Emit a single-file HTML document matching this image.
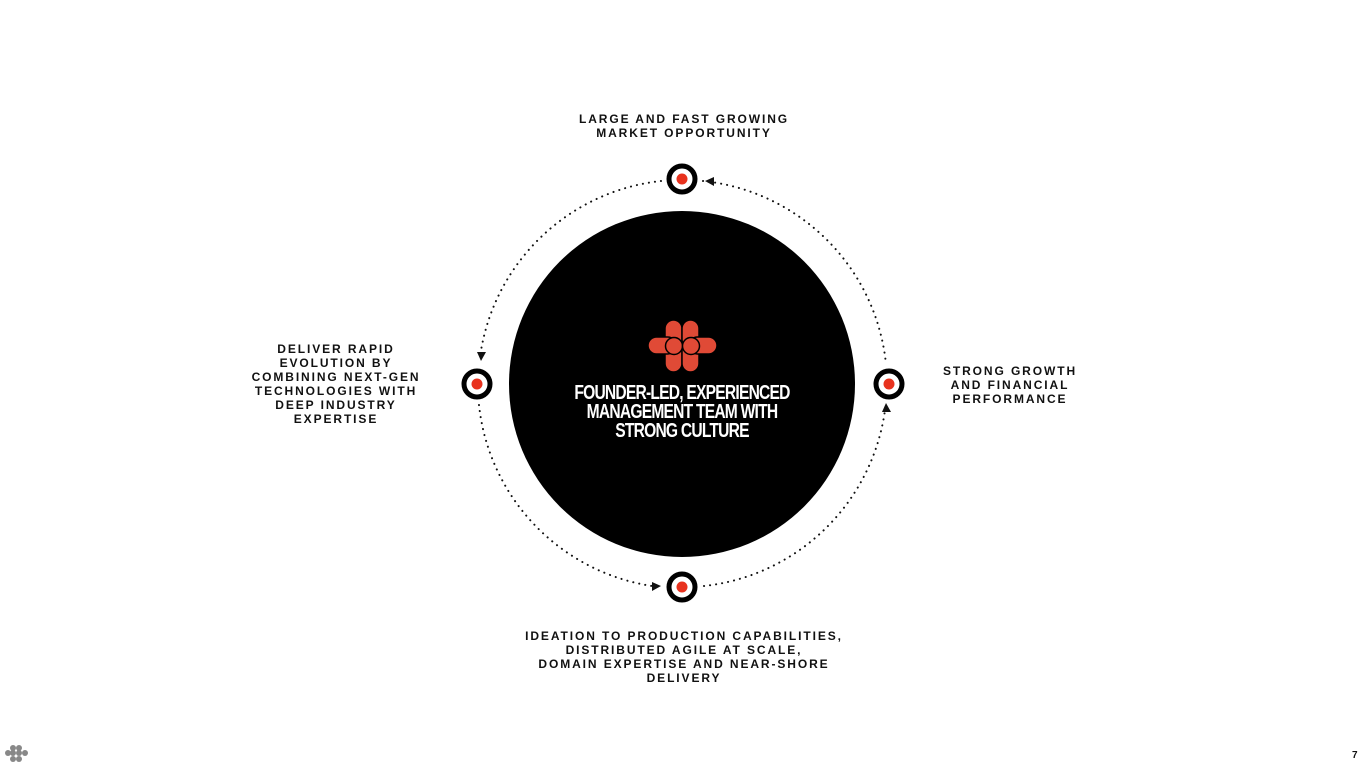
<!DOCTYPE html>
<html><head><style>
body{margin:0;width:1365px;height:768px;background:#fff;position:relative;overflow:hidden;font-family:"Liberation Sans",sans-serif}
.l{position:absolute;font-weight:bold;font-size:12px;letter-spacing:1.9px;line-height:14px;text-align:center;color:#111}
.t{position:absolute;left:532px;width:300px;top:384px;text-align:center;color:#fff;font-family:"Liberation Sans",sans-serif;font-weight:bold;font-size:20px;line-height:19px;letter-spacing:-1px;transform:scaleX(0.78);transform-origin:50% 0}
</style></head><body>
<svg width="1365" height="768" style="position:absolute;left:0;top:0">
<g fill="none" stroke="#111" stroke-width="2" stroke-dasharray="0.1 6" stroke-linecap="round">
<path d="M 703 181 A 205 205 0 0 1 886 364"/>
<path d="M 661 181 A 205 205 0 0 0 480 357"/>
<path d="M 479 405 A 205 205 0 0 0 652 586"/>
<path d="M 704 586 A 205 205 0 0 0 885 410"/>
</g>
<g fill="#111">
<polygon points="705,181 714,177 714,186"/>
<polygon points="481,361 477,352 486,352"/>
<polygon points="661,586 652,582 652,591"/>
<polygon points="886,403 882,412 891,412"/>
</g>
<circle cx="682" cy="384" r="173" fill="#000"/>
<g>
<circle cx="682" cy="179" r="13" fill="#fff" stroke="#000" stroke-width="5"/><circle cx="682" cy="179" r="5.5" fill="#e8321e"/>
<circle cx="682" cy="587" r="13" fill="#fff" stroke="#000" stroke-width="5"/><circle cx="682" cy="587" r="5.5" fill="#e8321e"/>
<circle cx="477" cy="384" r="13" fill="#fff" stroke="#000" stroke-width="5"/><circle cx="477" cy="384" r="5.5" fill="#e8321e"/>
<circle cx="889" cy="384" r="13" fill="#fff" stroke="#000" stroke-width="5"/><circle cx="889" cy="384" r="5.5" fill="#e8321e"/>
</g>
<g fill="#e04a36" stroke="#000" stroke-width="1.5">
<rect x="665" y="320" width="17" height="28" rx="8.5"/>
<rect x="682" y="320" width="17" height="28" rx="8.5"/>
<rect x="665" y="343" width="17" height="29" rx="8.5"/>
<rect x="682" y="343" width="17" height="29" rx="8.5"/>
<rect x="648" y="337" width="28" height="17" rx="8.5"/>
<rect x="689" y="337" width="28" height="17" rx="8.5"/>
<circle cx="674" cy="346" r="8.5"/><circle cx="691" cy="346" r="8.5"/>
</g>
<g fill="#888">
<circle cx="13" cy="748" r="3"/><circle cx="19" cy="748" r="3"/>
<circle cx="8" cy="753" r="3"/><circle cx="13" cy="753" r="3"/><circle cx="19" cy="753" r="3"/><circle cx="25" cy="753" r="3"/>
<circle cx="13" cy="759" r="3"/><circle cx="19" cy="759" r="3"/>
</g>
<text x="1352" y="758" font-size="10" font-weight="bold" font-family="Liberation Sans" fill="#111">7</text>
</svg>
<div class="t">FOUNDER-LED, EXPERIENCED<br>MANAGEMENT TEAM WITH<br>STRONG CULTURE</div>
<div class="l" style="left:534px;width:300px;top:112px">LARGE AND FAST GROWING<br>MARKET OPPORTUNITY</div>
<div class="l" style="left:236px;width:200px;top:342px">DELIVER RAPID<br>EVOLUTION BY<br>COMBINING NEXT-GEN<br>TECHNOLOGIES WITH<br>DEEP INDUSTRY<br>EXPERTISE</div>
<div class="l" style="left:910px;width:200px;top:364px">STRONG GROWTH<br>AND FINANCIAL<br>PERFORMANCE</div>
<div class="l" style="left:484px;width:400px;top:629px">IDEATION TO PRODUCTION CAPABILITIES,<br>DISTRIBUTED AGILE AT SCALE,<br>DOMAIN EXPERTISE AND NEAR-SHORE<br>DELIVERY</div>
</body></html>
